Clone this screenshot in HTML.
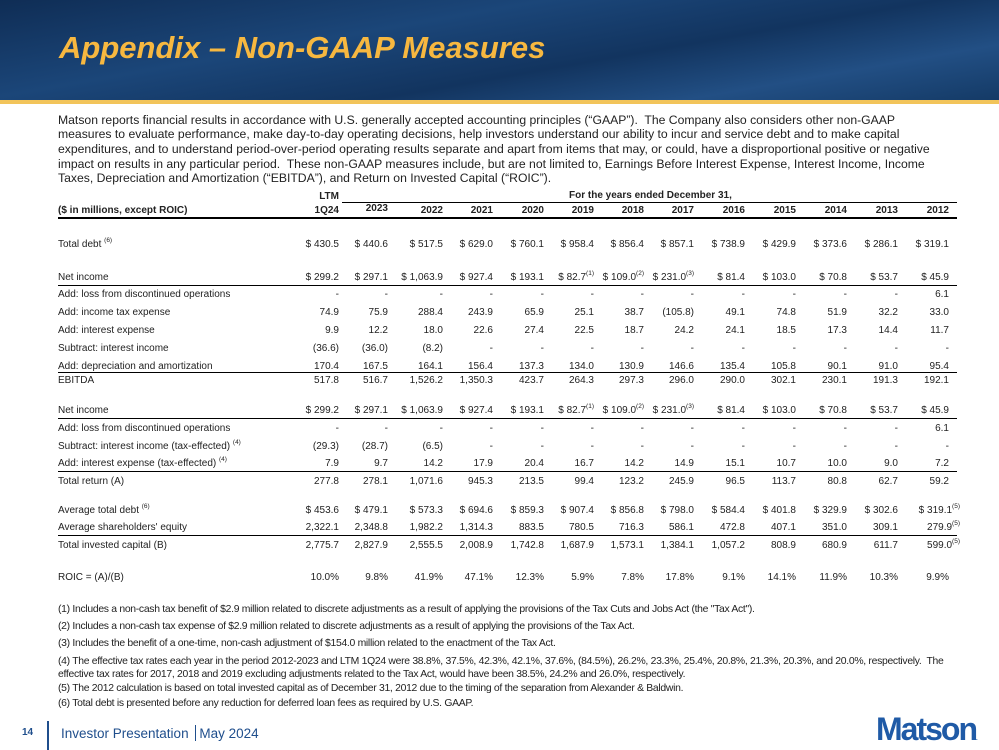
<!DOCTYPE html>
<html><head><meta charset="utf-8"><style>
*{margin:0;padding:0;box-sizing:border-box}
body{width:999px;height:750px;position:relative;background:#fff;font-family:"Liberation Sans",Arial,sans-serif;color:#222;overflow:hidden}
.hdr{position:absolute;left:0;top:0;width:999px;height:100px;background:linear-gradient(170deg,#0f2d55 0%,#1b4679 35%,#12345f 60%,#224f84 80%,#143a66 100%)}
.gold{position:absolute;left:0;top:100px;width:999px;height:4px;background:#f2c45a}
.title{position:absolute;left:59px;top:30px;font-size:31px;font-weight:bold;font-style:italic;color:#f7b840;white-space:nowrap}
.intro{position:absolute;left:58px;top:112.5px;width:872px;font-size:12.2px;line-height:14.7px;color:#222}
.r{position:absolute;left:58px;font-size:10px;white-space:nowrap;height:12px;line-height:12px;width:0}
.r span{position:absolute;text-align:right;white-space:nowrap}
.c1{right:-281px}.c2{right:-330px}.c3{right:-385px}.c4{right:-435px}.c5{right:-486px}.c6{right:-536px}.c7{right:-586px}.c8{right:-636px}.c9{right:-687px}.c10{right:-738px}.c11{right:-789px}.c12{right:-840px}.c13{right:-891px}
.lbl{left:0;text-align:left!important}
sup{font-size:6.5px;vertical-align:5px;line-height:0}
.b{font-weight:bold}
.ln{position:absolute;left:58px;width:899px;height:1px;background:#000}
.fn{position:absolute;left:58px;font-size:10.4px;letter-spacing:-0.3px;white-space:nowrap;color:#222;line-height:13px}
</style></head><body>
<div class="hdr"></div><div class="gold"></div>
<div class="title">Appendix – Non-GAAP Measures</div>
<div class="intro">Matson reports financial results in accordance with U.S. generally accepted accounting principles (“GAAP”).&nbsp; The Company also considers other non-GAAP measures to evaluate performance, make day-to-day operating decisions, help investors understand our ability to incur and service debt and to make capital expenditures, and to understand period-over-period operating results separate and apart from items that may, or could, have a disproportional positive or negative impact on results in any particular period.&nbsp; These non-GAAP measures include, but are not limited to, Earnings Before Interest Expense, Interest Income, Income Taxes, Depreciation and Amortization (“EBITDA”), and Return on Invested Capital (“ROIC”).</div>

<div class="r b" style="top:190px"><span style="left:511px">For the years ended December 31,</span></div>
<div class="ln" style="left:342px;width:615px;top:202px"></div>
<div class="r b" style="top:191px"><span class="c1">LTM</span></div>
<div class="r b" style="top:205px"><span class="lbl">($ in millions, except ROIC)</span><span class="c1">1Q24</span><span class="c2" style="top:-2px">2023</span><span class="c3">2022</span><span class="c4">2021</span><span class="c5">2020</span><span class="c6">2019</span><span class="c7">2018</span><span class="c8">2017</span><span class="c9">2016</span><span class="c10">2015</span><span class="c11">2014</span><span class="c12">2013</span><span class="c13">2012</span></div>
<div class="ln" style="top:217px;height:2px"></div>

<div class="r" style="top:239px"><span class="lbl">Total debt <sup>(6)</sup></span><span class="c1">$ 430.5</span><span class="c2">$ 440.6</span><span class="c3">$ 517.5</span><span class="c4">$ 629.0</span><span class="c5">$ 760.1</span><span class="c6">$ 958.4</span><span class="c7">$ 856.4</span><span class="c8">$ 857.1</span><span class="c9">$ 738.9</span><span class="c10">$ 429.9</span><span class="c11">$ 373.6</span><span class="c12">$ 286.1</span><span class="c13">$ 319.1</span></div>

<div class="r" style="top:272px"><span class="lbl">Net income</span><span class="c1">$ 299.2</span><span class="c2">$ 297.1</span><span class="c3">$ 1,063.9</span><span class="c4">$ 927.4</span><span class="c5">$ 193.1</span><span class="c6">$ 82.7<sup>(1)</sup></span><span class="c7">$ 109.0<sup>(2)</sup></span><span class="c8">$ 231.0<sup>(3)</sup></span><span class="c9">$ 81.4</span><span class="c10">$ 103.0</span><span class="c11">$ 70.8</span><span class="c12">$ 53.7</span><span class="c13">$ 45.9</span></div>
<div class="ln" style="top:285px"></div>
<div class="r" style="top:289px"><span class="lbl">Add: loss from discontinued operations</span><span class="c1">-</span><span class="c2">-</span><span class="c3">-</span><span class="c4">-</span><span class="c5">-</span><span class="c6">-</span><span class="c7">-</span><span class="c8">-</span><span class="c9">-</span><span class="c10">-</span><span class="c11">-</span><span class="c12">-</span><span class="c13">6.1</span></div>
<div class="r" style="top:307px"><span class="lbl">Add: income tax expense</span><span class="c1">74.9</span><span class="c2">75.9</span><span class="c3">288.4</span><span class="c4">243.9</span><span class="c5">65.9</span><span class="c6">25.1</span><span class="c7">38.7</span><span class="c8">(105.8)</span><span class="c9">49.1</span><span class="c10">74.8</span><span class="c11">51.9</span><span class="c12">32.2</span><span class="c13">33.0</span></div>
<div class="r" style="top:325px"><span class="lbl">Add: interest expense</span><span class="c1">9.9</span><span class="c2">12.2</span><span class="c3">18.0</span><span class="c4">22.6</span><span class="c5">27.4</span><span class="c6">22.5</span><span class="c7">18.7</span><span class="c8">24.2</span><span class="c9">24.1</span><span class="c10">18.5</span><span class="c11">17.3</span><span class="c12">14.4</span><span class="c13">11.7</span></div>
<div class="r" style="top:343px"><span class="lbl">Subtract: interest income</span><span class="c1">(36.6)</span><span class="c2">(36.0)</span><span class="c3">(8.2)</span><span class="c4">-</span><span class="c5">-</span><span class="c6">-</span><span class="c7">-</span><span class="c8">-</span><span class="c9">-</span><span class="c10">-</span><span class="c11">-</span><span class="c12">-</span><span class="c13">-</span></div>
<div class="r" style="top:361px"><span class="lbl">Add: depreciation and amortization</span><span class="c1">170.4</span><span class="c2">167.5</span><span class="c3">164.1</span><span class="c4">156.4</span><span class="c5">137.3</span><span class="c6">134.0</span><span class="c7">130.9</span><span class="c8">146.6</span><span class="c9">135.4</span><span class="c10">105.8</span><span class="c11">90.1</span><span class="c12">91.0</span><span class="c13">95.4</span></div>
<div class="ln" style="top:372px"></div>
<div class="r" style="top:375px"><span class="lbl">EBITDA</span><span class="c1">517.8</span><span class="c2">516.7</span><span class="c3">1,526.2</span><span class="c4">1,350.3</span><span class="c5">423.7</span><span class="c6">264.3</span><span class="c7">297.3</span><span class="c8">296.0</span><span class="c9">290.0</span><span class="c10">302.1</span><span class="c11">230.1</span><span class="c12">191.3</span><span class="c13">192.1</span></div>

<div class="r" style="top:405px"><span class="lbl">Net income</span><span class="c1">$ 299.2</span><span class="c2">$ 297.1</span><span class="c3">$ 1,063.9</span><span class="c4">$ 927.4</span><span class="c5">$ 193.1</span><span class="c6">$ 82.7<sup>(1)</sup></span><span class="c7">$ 109.0<sup>(2)</sup></span><span class="c8">$ 231.0<sup>(3)</sup></span><span class="c9">$ 81.4</span><span class="c10">$ 103.0</span><span class="c11">$ 70.8</span><span class="c12">$ 53.7</span><span class="c13">$ 45.9</span></div>
<div class="ln" style="top:418px"></div>
<div class="r" style="top:423px"><span class="lbl">Add: loss from discontinued operations</span><span class="c1">-</span><span class="c2">-</span><span class="c3">-</span><span class="c4">-</span><span class="c5">-</span><span class="c6">-</span><span class="c7">-</span><span class="c8">-</span><span class="c9">-</span><span class="c10">-</span><span class="c11">-</span><span class="c12">-</span><span class="c13">6.1</span></div>
<div class="r" style="top:441px"><span class="lbl">Subtract: interest income (tax-effected) <sup>(4)</sup></span><span class="c1">(29.3)</span><span class="c2">(28.7)</span><span class="c3">(6.5)</span><span class="c4">-</span><span class="c5">-</span><span class="c6">-</span><span class="c7">-</span><span class="c8">-</span><span class="c9">-</span><span class="c10">-</span><span class="c11">-</span><span class="c12">-</span><span class="c13">-</span></div>
<div class="r" style="top:458px"><span class="lbl">Add: interest expense (tax-effected) <sup>(4)</sup></span><span class="c1">7.9</span><span class="c2">9.7</span><span class="c3">14.2</span><span class="c4">17.9</span><span class="c5">20.4</span><span class="c6">16.7</span><span class="c7">14.2</span><span class="c8">14.9</span><span class="c9">15.1</span><span class="c10">10.7</span><span class="c11">10.0</span><span class="c12">9.0</span><span class="c13">7.2</span></div>
<div class="ln" style="top:471px"></div>
<div class="r" style="top:476px"><span class="lbl">Total return (A)</span><span class="c1">277.8</span><span class="c2">278.1</span><span class="c3">1,071.6</span><span class="c4">945.3</span><span class="c5">213.5</span><span class="c6">99.4</span><span class="c7">123.2</span><span class="c8">245.9</span><span class="c9">96.5</span><span class="c10">113.7</span><span class="c11">80.8</span><span class="c12">62.7</span><span class="c13">59.2</span></div>

<div class="r" style="top:505px"><span class="lbl">Average total debt <sup>(6)</sup></span><span class="c1">$ 453.6</span><span class="c2">$ 479.1</span><span class="c3">$ 573.3</span><span class="c4">$ 694.6</span><span class="c5">$ 859.3</span><span class="c6">$ 907.4</span><span class="c7">$ 856.8</span><span class="c8">$ 798.0</span><span class="c9">$ 584.4</span><span class="c10">$ 401.8</span><span class="c11">$ 329.9</span><span class="c12">$ 302.6</span><span class="c13" style="right:-902px">$ 319.1<sup>(5)</sup></span></div>
<div class="r" style="top:522px"><span class="lbl">Average shareholders' equity</span><span class="c1">2,322.1</span><span class="c2">2,348.8</span><span class="c3">1,982.2</span><span class="c4">1,314.3</span><span class="c5">883.5</span><span class="c6">780.5</span><span class="c7">716.3</span><span class="c8">586.1</span><span class="c9">472.8</span><span class="c10">407.1</span><span class="c11">351.0</span><span class="c12">309.1</span><span class="c13" style="right:-902px">279.9<sup>(5)</sup></span></div>
<div class="ln" style="top:535px"></div>
<div class="r" style="top:540px"><span class="lbl">Total invested capital (B)</span><span class="c1">2,775.7</span><span class="c2">2,827.9</span><span class="c3">2,555.5</span><span class="c4">2,008.9</span><span class="c5">1,742.8</span><span class="c6">1,687.9</span><span class="c7">1,573.1</span><span class="c8">1,384.1</span><span class="c9">1,057.2</span><span class="c10">808.9</span><span class="c11">680.9</span><span class="c12">611.7</span><span class="c13" style="right:-902px">599.0<sup>(5)</sup></span></div>

<div class="r" style="top:572px"><span class="lbl">ROIC = (A)/(B)</span><span class="c1">10.0%</span><span class="c2">9.8%</span><span class="c3">41.9%</span><span class="c4">47.1%</span><span class="c5">12.3%</span><span class="c6">5.9%</span><span class="c7">7.8%</span><span class="c8">17.8%</span><span class="c9">9.1%</span><span class="c10">14.1%</span><span class="c11">11.9%</span><span class="c12">10.3%</span><span class="c13">9.9%</span></div>

<div class="fn" style="top:603px">(1) Includes a non-cash tax benefit of $2.9 million related to discrete adjustments as a result of applying the provisions of the Tax Cuts and Jobs Act (the "Tax Act").</div>
<div class="fn" style="top:620px">(2) Includes a non-cash tax expense of $2.9 million related to discrete adjustments as a result of applying the provisions of the Tax Act.</div>
<div class="fn" style="top:637px">(3) Includes the benefit of a one-time, non-cash adjustment of $154.0 million related to the enactment of the Tax Act.</div>
<div class="fn" style="top:655px">(4) The effective tax rates each year in the period 2012-2023 and LTM 1Q24 were 38.8%, 37.5%, 42.3%, 42.1%, 37.6%, (84.5%), 26.2%, 23.3%, 25.4%, 20.8%, 21.3%, 20.3%, and 20.0%, respectively.&nbsp; The<br>effective tax rates for 2017, 2018 and 2019 excluding adjustments related to the Tax Act, would have been 38.5%, 24.2% and 26.0%, respectively.</div>
<div class="fn" style="top:682px">(5) The 2012 calculation is based on total invested capital as of December 31, 2012 due to the timing of the separation from Alexander &amp; Baldwin.</div>
<div class="fn" style="top:697px">(6) Total debt is presented before any reduction for deferred loan fees as required by U.S. GAAP.</div>

<div style="position:absolute;left:22px;top:727px;font-size:10px;font-weight:bold;color:#1f4e8c">14</div>
<div style="position:absolute;left:47px;top:721px;width:1.5px;height:29px;background:#1f4e8c"></div>
<div style="position:absolute;left:61px;top:725px;font-size:13.5px;color:#1f4e8c;white-space:nowrap">Investor Presentation <span style="display:inline-block;width:1px;height:16px;background:#1f4e8c;vertical-align:-3px;margin:0 3px"></span>May 2024</div>
<div style="position:absolute;left:876px;top:711px;font-size:32px;font-weight:bold;color:#1f5aa6;letter-spacing:-2px;white-space:nowrap">Matson<span style="font-size:6px;letter-spacing:0">.</span></div>
</body></html>
